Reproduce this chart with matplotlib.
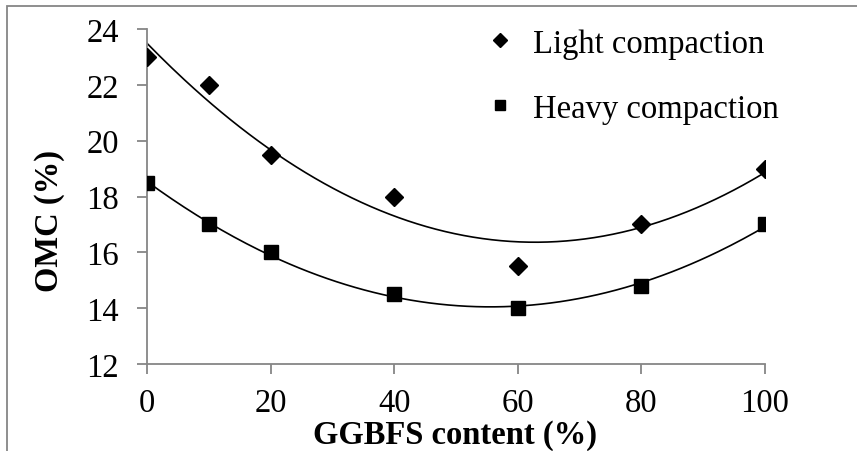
import numpy as np
import matplotlib.pyplot as plt
from matplotlib.patches import Rectangle

plt.rcParams['font.family'] = ['Liberation Serif', 'DejaVu Serif']

ggbfs = [0, 10, 20, 40, 60, 80, 100]
light = [23.0, 22.0, 19.5, 18.0, 15.5, 17.0, 19.0]
heavy = [18.5, 17.0, 16.0, 14.5, 14.0, 14.8, 17.0]

fig = plt.figure(figsize=(8.57, 4.52), dpi=100)
ax = fig.add_axes([0.1715, 0.1925, 0.7211, 0.7411])

# second order trendlines, like the spreadsheet ones
xs = np.linspace(0, 100, 200)
for y in (light, heavy):
    p = np.polyfit(ggbfs, y, 2)
    ax.plot(xs, np.polyval(p, xs), color='black', lw=1.2, zorder=2)

ax.plot(ggbfs, light, 'D', color='black', ms=9.5, ls='none', label='Light compaction', zorder=3)
ax.plot(ggbfs, heavy, 's', color='black', ms=9.5, ls='none', label='Heavy compaction', zorder=3)

ax.set_xlim(0, 100)
ax.set_ylim(12, 24)
ax.set_xticks(range(0, 101, 20))
ax.set_yticks(range(12, 25, 2))

gray = '#868686'
for s in ('top', 'right'):
    ax.spines[s].set_visible(False)
for s in ('left', 'bottom'):
    ax.spines[s].set_color(gray)
    ax.spines[s].set_linewidth(1.3)
ax.tick_params(direction='out', length=7, width=1.3, color=gray, labelsize=23.5)
ax.tick_params(axis='y', pad=13)
ax.tick_params(axis='x', pad=10)

fig.text(0.058, 0.51, 'OMC (%)', rotation=90, ha='center', va='center',
         fontsize=23.5, fontweight='bold')
fig.text(0.531, 0.019, 'GGBFS content (%)', ha='center', va='baseline',
         fontsize=23.5, fontweight='bold')

leg = ax.legend(loc='upper left', bbox_to_anchor=(0.53, 1.0), bbox_transform=fig.transFigure,
                frameon=False, fontsize=23.5, labelspacing=1.05, handletextpad=0.5,
                handlelength=1.0, markerscale=0.7)

# thin frame around the figure
fig.patches.append(Rectangle((0.0082, -0.05), 1.2, 0.9845 + 0.05, transform=fig.transFigure,
                             fill=False, edgecolor=gray, lw=1.3))

fig.savefig('out.png', dpi=100)
